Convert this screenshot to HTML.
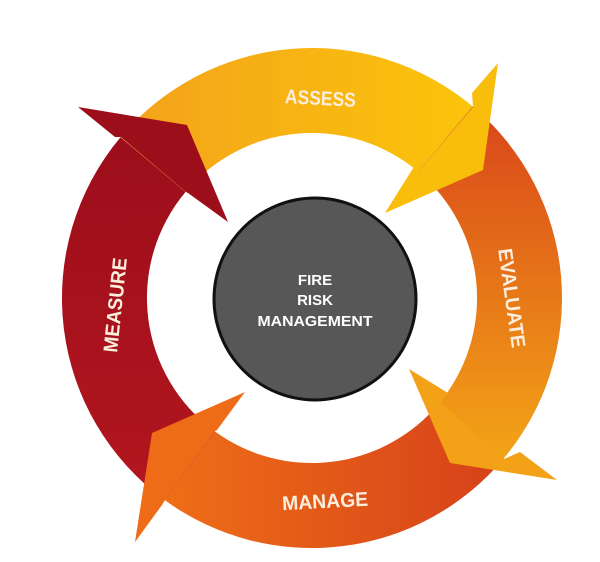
<!DOCTYPE html>
<html><head><meta charset="utf-8"><style>
html,body{margin:0;padding:0;background:#fff;}
svg{display:block}
</style></head><body>
<svg width="600" height="562" viewBox="0 0 600 562" xmlns="http://www.w3.org/2000/svg">
<defs>
<linearGradient id="gy" x1="0" y1="0" x2="1" y2="0"><stop offset="0" stop-color="#f3a21c"/><stop offset="1" stop-color="#fbc40a"/></linearGradient>
<linearGradient id="ge" x1="0" y1="0" x2="0" y2="1"><stop offset="0" stop-color="#d9451a"/><stop offset="1" stop-color="#f3a417"/></linearGradient>
<linearGradient id="gm" x1="1" y1="0" x2="0" y2="0"><stop offset="0" stop-color="#d6411a"/><stop offset="1" stop-color="#ee6e17"/></linearGradient>
<linearGradient id="gr" x1="0" y1="0" x2="0" y2="1"><stop offset="0" stop-color="#9c0e1b"/><stop offset="1" stop-color="#b3161f"/></linearGradient>
</defs>
<path d="M120.5,137.3 A250,250 0 0 1 472.7,106.5 L418.1,171.6 A165,165 0 0 0 185.6,191.9 Z" fill="url(#gy)"/>
<path d="M472.7,106.5 A250,250 0 0 1 503.5,458.7 L438.4,404.1 A165,165 0 0 0 418.1,171.6 Z" fill="url(#ge)"/>
<path d="M503.5,458.7 A250,250 0 0 1 165,500.3 L215,431.5 A165,165 0 0 0 438.4,404.1 Z" fill="url(#gm)"/>
<path d="M165,500.3 A250,250 0 0 1 120.5,137.3 L185.6,191.9 A165,165 0 0 0 215,431.5 Z" fill="url(#gr)"/>
<polygon points="473,107 472,93 498,63 483,170 385,213 415,165 418,172" fill="#f9bd0c"/>
<polygon points="121,137 115,137 78,107 187,125 228,222 188,193 186,192" fill="#9d0e1b"/>
<polygon points="440,402 448,393 409,369 450,463 557,480 520,452 504,459" fill="#f3a117"/>
<polygon points="215,431 217,430 245,392 152,433 135,542 162,505 165,500" fill="#ee6c17"/>
<g font-family="Liberation Sans, sans-serif" font-size="20" font-weight="bold" fill="#fbeedd">
<text x="285" y="105" textLength="71" lengthAdjust="spacingAndGlyphs" transform="rotate(3 320 97)">ASSESS</text>
<text x="282" y="508" textLength="86" lengthAdjust="spacingAndGlyphs" transform="rotate(-3 325 500)">MANAGE</text>
<text x="0" y="7" textLength="100" lengthAdjust="spacingAndGlyphs" text-anchor="middle" transform="translate(512,298) rotate(82)">EVALUATE</text>
<text x="0" y="7" textLength="95" lengthAdjust="spacingAndGlyphs" text-anchor="middle" transform="translate(115,305) rotate(-84)">MEASURE</text>
</g>
<circle cx="315" cy="299" r="101" fill="#575757" stroke="#111" stroke-width="3"/>
<g font-family="Liberation Sans, sans-serif" font-size="15" font-weight="bold" fill="#fff" text-anchor="middle">
<text x="315" y="285">FIRE</text>
<text x="315" y="305">RISK</text>
<text x="315" y="326" textLength="115" lengthAdjust="spacingAndGlyphs">MANAGEMENT</text>
</g>
</svg>
</body></html>
